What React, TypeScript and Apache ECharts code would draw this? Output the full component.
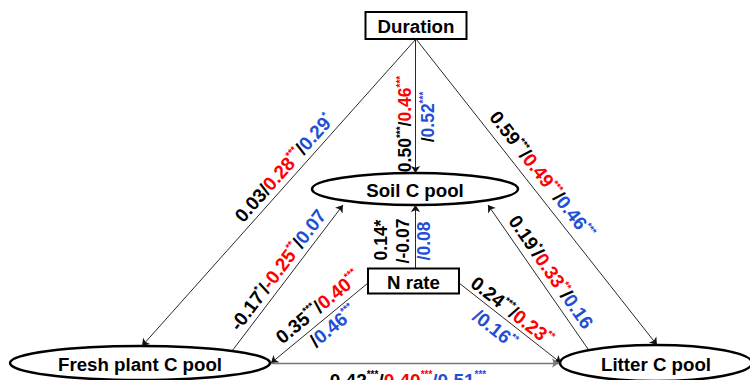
import React, { useEffect, useRef } from 'react';
import * as echarts from 'echarts';

// Path coefficients per causal link: three models (black, red, blue) with significance marks
const links = [
  'duration-fresh',
  'duration-soil',
  'duration-litter',
  'fresh-soil',
  'litter-soil',
  'nrate-soil',
  'nrate-fresh',
  'nrate-litter',
  'fresh-litter',
];
const coefA = [0.03, 0.5, 0.59, -0.17, 0.19, 0.14, 0.35, 0.24, 0.42];
const sigA = ['', '***', '***', '*', '*', '*', '***', '***', '***'];
const coefB = [0.28, 0.46, 0.49, -0.25, 0.33, -0.07, 0.4, 0.23, 0.4];
const sigB = ['***', '***', '***', '**', '**', '', '***', '**', '***'];
const coefC = [0.29, 0.52, 0.46, 0.07, 0.16, 0.08, 0.46, 0.16, 0.51];
const sigC = ['*', '***', '***', '', '', '', '***', '**', '***'];

const nodeNames = ['Duration', 'Soil C pool', 'N rate', 'Fresh plant C pool', 'Litter C pool'];

const FONT = "'Liberation Sans', Arial, Helvetica, sans-serif";
const RED = '#ff0000';
const BLUE = '#1f4fd6';

// Diagram layout (pixel space of the 750 x 380 canvas)
const NODE_GEOM: Record<string, any> = {
  'Duration': { kind: 'rect', cx: 416, cy: 25.5, w: 101, h: 27 },
  'Soil C pool': { kind: 'ellipse', cx: 415, cy: 189, rx: 103, ry: 16 },
  'N rate': { kind: 'rect', cx: 413.5, cy: 281, w: 91, h: 25 },
  'Fresh plant C pool': { kind: 'ellipse', cx: 140, cy: 363, rx: 130, ry: 17 },
  'Litter C pool': { kind: 'ellipse', cx: 656, cy: 363, rx: 96, ry: 18 },
};

const LINK_GEOM: Record<string, { from: number[]; to: number[]; color?: string; width?: number }> = {
  'duration-fresh': { from: [416, 39], to: [142, 346] },
  'duration-soil': { from: [415.5, 39], to: [415.5, 173] },
  'duration-litter': { from: [416, 39], to: [657, 345] },
  'fresh-soil': { from: [232, 351], to: [343, 205] },
  'litter-soil': { from: [588, 349], to: [488, 205] },
  'nrate-soil': { from: [415.5, 268], to: [415.5, 205] },
  'nrate-fresh': { from: [368, 283], to: [271, 363] },
  'nrate-litter': { from: [459, 283], to: [561, 363] },
  'fresh-litter': { from: [271, 363], to: [559, 363], color: '#777', width: 1.4 },
};

// Coefficient labels: which values go in each text block and where it sits along its link
type Block = {
  link: number;
  pieces: string[];
  x: number;
  y: number;
  rot: number;
  size: number;
  bColor?: string;
  inlineSig?: boolean;
};
const BLOCKS: Block[] = [
  { link: 0, pieces: ['A', '/k', 'B', '/k', 'C'], x: 284, y: 168, rot: 48.2, size: 19 },
  { link: 1, pieces: ['A', '/k', 'B'], x: 405, y: 124, rot: 90, size: 17.5 },
  { link: 1, pieces: ['/k', 'C'], x: 428, y: 117, rot: 90, size: 17.5 },
  { link: 2, pieces: ['A', '/k', 'B', '/k', 'C'], x: 542, y: 175, rot: -51.8, size: 19 },
  { link: 3, pieces: ['A', '/k', 'B', '/k', 'C'], x: 278, y: 270, rot: 52.9, size: 19 },
  { link: 4, pieces: ['A', '/k', 'B', '/k', 'C'], x: 551, y: 272, rot: -55.4, size: 19 },
  { link: 5, pieces: ['A'], x: 381, y: 240, rot: 90, size: 17.5, inlineSig: true },
  { link: 5, pieces: ['/k', 'B'], x: 403, y: 241, rot: 90, size: 17.5, bColor: 'k' },
  { link: 5, pieces: ['/b', 'C'], x: 424, y: 241, rot: 90, size: 17.5 },
  { link: 6, pieces: ['A', '/k', 'B'], x: 318, y: 307, rot: 39.5, size: 19 },
  { link: 6, pieces: ['/k', 'C'], x: 333, y: 326, rot: 39.5, size: 19 },
  { link: 7, pieces: ['A', '/k', 'B'], x: 512, y: 311, rot: -38.1, size: 19 },
  { link: 7, pieces: ['/b', 'C'], x: 495, y: 329, rot: -38.1, size: 19 },
  { link: 8, pieces: ['A', '/k', 'B', '/b', 'C'], x: 408, y: 380, rot: 0, size: 19 },
];

function richStyles(size: number) {
  const sup = Math.round(size * 0.55);
  const main = (c: string) => ({
    fill: c,
    color: c,
    fontSize: size,
    fontWeight: 'bold',
    fontFamily: FONT,
    lineHeight: size + 2,
  });
  const small = (c: string) => ({
    fill: c,
    color: c,
    fontSize: sup,
    fontWeight: 'bold',
    fontFamily: FONT,
    lineHeight: sup,
    verticalAlign: 'top',
  });
  return {
    k: main('#000'),
    r: main(RED),
    b: main(BLUE),
    ks: small('#000'),
    rs: small(RED),
    bs: small(BLUE),
  };
}

function blockText(bl: Block) {
  const i = bl.link;
  const out: string[] = [];
  bl.pieces.forEach((p) => {
    if (p === '/k') out.push('{k|/}');
    else if (p === '/b') out.push('{b|/}');
    else {
      const v = p === 'A' ? coefA[i] : p === 'B' ? coefB[i] : coefC[i];
      const s = p === 'A' ? sigA[i] : p === 'B' ? sigB[i] : sigC[i];
      let c = p === 'A' ? 'k' : p === 'B' ? 'r' : 'b';
      if (p === 'B' && bl.bColor) c = bl.bColor;
      out.push(`{${c}|${v.toFixed(2)}}`);
      if (s) out.push(bl.inlineSig ? `{${c}|${s}}` : `{${c}s|${s}}`);
    }
  });
  return out.join('');
}

export default function App() {
  const ref = useRef<HTMLDivElement>(null);

  useEffect(() => {
    document.body.style.margin = '0';
    if (!ref.current) return;
    const chart = echarts.init(ref.current, undefined, { renderer: 'svg' });

    const nodeGraphics: any[] = [];
    nodeNames.forEach((name) => {
      const g = NODE_GEOM[name];
      if (g.kind === 'rect') {
        nodeGraphics.push({
          type: 'rect',
          shape: { x: g.cx - g.w / 2, y: g.cy - g.h / 2, width: g.w, height: g.h },
          style: { fill: '#fff', stroke: '#000', lineWidth: 2 },
          z: 1,
        });
      } else {
        nodeGraphics.push({
          type: 'ellipse',
          shape: { cx: g.cx, cy: g.cy, rx: g.rx, ry: g.ry },
          style: { fill: '#fff', stroke: '#000', lineWidth: 2.5 },
          z: 1,
        });
      }
      nodeGraphics.push({
        type: 'text',
        x: g.cx,
        y: g.cy + 1,
        z: 5,
        style: {
          text: name,
          fontSize: 18.7,
          fontWeight: 'bold',
          fontFamily: FONT,
          fill: '#000',
          align: 'center',
          verticalAlign: 'middle',
          textAlign: 'center',
          textVerticalAlign: 'middle',
        },
      });
    });

    const labelGraphics = BLOCKS.map((bl) => ({
      type: 'text',
      x: bl.x,
      y: bl.y,
      rotation: (bl.rot * Math.PI) / 180,
      z: 5,
      style: {
        text: blockText(bl),
        rich: richStyles(bl.size),
        fontSize: bl.size,
        fontWeight: 'bold',
        fontFamily: FONT,
        align: 'center',
        verticalAlign: 'middle',
        textAlign: 'center',
        textVerticalAlign: 'middle',
      },
    }));

    const lineData = links.map((id) => {
      const g = LINK_GEOM[id];
      return {
        name: id,
        coords: [g.from, g.to],
        lineStyle: { color: g.color || '#111', width: g.width || 0.9 },
      };
    });

    chart.setOption({
      animation: false,
      grid: { left: 0, right: 0, top: 0, bottom: 0, containLabel: false },
      xAxis: { type: 'value', min: 0, max: 750, show: false },
      yAxis: { type: 'value', min: 0, max: 380, inverse: true, show: false },
      series: [
        {
          type: 'lines',
          coordinateSystem: 'cartesian2d',
          symbol: ['none', 'arrow'],
          symbolSize: 7,
          z: 3,
          lineStyle: { color: '#111', width: 0.9, opacity: 1 },
          data: lineData,
        },
      ],
      graphic: [...nodeGraphics, ...labelGraphics],
    });

    return () => chart.dispose();
  }, []);

  return <div ref={ref} style={{ width: 750, height: 380, background: '#fff' }} />;
}
